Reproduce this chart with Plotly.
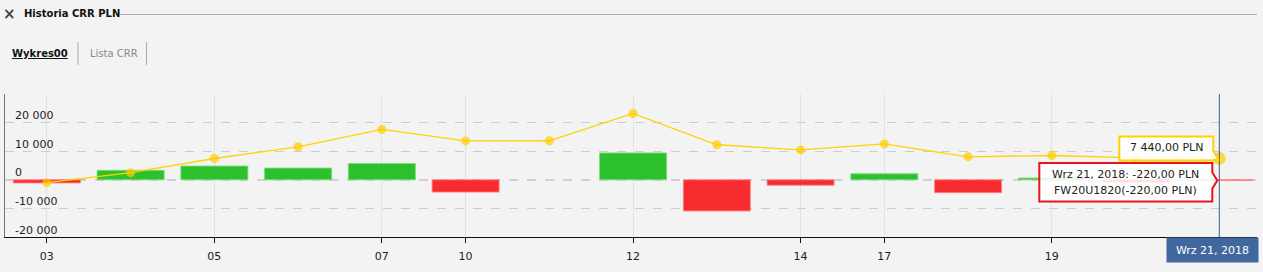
import plotly.graph_objects as go

# ---- data ----
days = ["03", "04", "05", "06", "07", "10", "11", "12", "13", "14", "17", "18", "19", "20", "21"]
daily_pln = [-1100, 3300, 4800, 4100, 5700, -4300, 0, 9400, -10900, -1900, 2100, -4500, 600, -870, -220]
cumulative_pln = [-1000, 2500, 7450, 11550, 17600, 13600, 13650, 23200, 12250, 10450, 12550, 8050, 8500, 7660, 7440]
tick_days = ["03", "05", "07", "10", "12", "14", "17", "19"]
y_grid = [-20000, -10000, 0, 10000, 20000, 30000]
y_labels = ["-20 000", "-10 000", "0", "10 000", "20 000"]
y_label_vals = [-20000, -10000, 0, 10000, 20000]
cursor_day = "21"
cursor_label = "Wrz 21, 2018"
tip_total = "7 440,00 PLN"
tip_line1 = "Wrz 21, 2018: -220,00 PLN"
tip_line2 = "FW20U1820(-220,00 PLN)"

FONT = "DejaVu Sans"
GREEN = "#2dc22d"
RED = "#f82c2e"
YELLOW = "#ffd200"

W, H = 1263, 272
ML, MR, MT, MB = 5, 6, 94, 35
PW, PH = W - ML - MR, H - MT - MB


def xp(px):
    return (px - ML) / PW


def yp(py):
    return (H - MB - py) / PH


bar_colors = [GREEN if v >= 0 else RED for v in daily_pln]
bar_lines = [("rgba(120,220,120,0.9)" if v > 0 else "rgba(255,130,130,0.9)") if v != 0
             else "rgba(0,0,0,0)" for v in daily_pln]

fig = go.Figure()
fig.add_trace(go.Bar(
    x=days, y=daily_pln, width=0.8,
    marker=dict(color=bar_colors, line=dict(color=bar_lines, width=1)),
    hoverinfo="skip",
))
ci = days.index(cursor_day)
sizes = [9] * len(days)
sizes[ci] = 13
fig.add_trace(go.Scatter(
    x=days, y=cumulative_pln, mode="lines+markers",
    line=dict(color=YELLOW, width=1.3),
    marker=dict(color="#ffcc00", size=sizes, line=dict(width=0)),
    hoverinfo="skip",
))

shapes = []
# zero line
shapes.append(dict(type="line", xref="paper", yref="y", x0=0, x1=1, y0=0, y1=0,
                   line=dict(color="#8a8a8a", width=1, dash="dash"), layer="below"))
# cursor line
shapes.append(dict(type="line", xref="x", yref="paper", x0=ci, x1=ci, y0=0, y1=1,
                   line=dict(color="#3b5b8e", width=1)))
# yellow callout
shapes.append(dict(type="path", xref="x", yref="y", xsizemode="pixel", ysizemode="pixel",
                   xanchor=ci, yanchor=cumulative_pln[ci],
                   path="M -100,22 L -6,22 L -6,8 L -1,-1 L -8,-2 L -100,-2 Z",
                   fillcolor="rgba(255,255,255,0.88)", line=dict(color=YELLOW, width=2)))
# red callout
shapes.append(dict(type="path", xref="x", yref="y", xsizemode="pixel", ysizemode="pixel",
                   xanchor=ci, yanchor=daily_pln[ci],
                   path="M -180,17.5 L -7,17.5 L -7,8 L -2,0 L -7,-8 L -7,-21 L -180,-21 Z",
                   fillcolor="rgba(255,255,255,0.85)", line=dict(color="#e8141c", width=2)))
# header line
shapes.append(dict(type="line", xref="paper", yref="paper", x0=xp(120), x1=xp(1257),
                   y0=yp(14.5), y1=yp(14.5), line=dict(color="#a9adc4", width=1)))
# tab separators
for sx in (78, 146.5):
    shapes.append(dict(type="line", xref="paper", yref="paper", x0=xp(sx), x1=xp(sx),
                       y0=yp(42), y1=yp(65), line=dict(color="#ababab", width=1)))

ann = []
for v, t in zip(y_label_vals, y_labels):
    ann.append(dict(xref="paper", yref="y", x=xp(13), y=v, text=t, showarrow=False,
                    xanchor="left", yanchor="bottom", yshift=-1.5,
                    font=dict(family=FONT, size=11, color="#222")))
ann.append(dict(xref="x", yref="y", x=ci, y=cumulative_pln[ci], text=tip_total, showarrow=False,
                xshift=-53, yshift=11, font=dict(family=FONT, size=11, color="#222")))
ann.append(dict(xref="x", yref="y", x=ci, y=daily_pln[ci], text=tip_line1, showarrow=False,
                xshift=-94, yshift=5.5, font=dict(family=FONT, size=11, color="#222")))
ann.append(dict(xref="x", yref="y", x=ci, y=daily_pln[ci], text=tip_line2, showarrow=False,
                xshift=-94, yshift=-10.5, font=dict(family=FONT, size=11, color="#222")))
ann.append(dict(xref="x", yref="paper", x=ci, y=0, text=cursor_label, showarrow=False,
                xanchor="center", yanchor="top", xshift=-7, yshift=0, width=91, height=24,
                bgcolor="#41679f", borderpad=0, font=dict(family=FONT, size=11, color="white")))
# header texts
ann.append(dict(xref="paper", yref="paper", x=xp(9), y=yp(14.5), text="<b>×</b>", showarrow=False,
                xanchor="center", yanchor="middle", font=dict(family=FONT, size=15, color="#444")))
ann.append(dict(xref="paper", yref="paper", x=xp(22), y=yp(13), text="<b>Historia CRR PLN</b>",
                showarrow=False, xanchor="left", yanchor="middle",
                font=dict(family=FONT, size=10, color="#111")))
ann.append(dict(xref="paper", yref="paper", x=xp(9.5), y=yp(54), text="<b><u>Wykres00</u></b>",
                showarrow=False, xanchor="left", yanchor="middle",
                font=dict(family=FONT, size=10, color="#111")))
ann.append(dict(xref="paper", yref="paper", x=xp(88), y=yp(54), text="Lista CRR",
                showarrow=False, xanchor="left", yanchor="middle",
                font=dict(family=FONT, size=10, color="#8a8a8a")))

fig.update_layout(
    width=W, height=H, margin=dict(l=ML, r=MR, t=MT, b=MB, pad=0),
    paper_bgcolor="#f3f3f3", plot_bgcolor="#f3f3f3",
    showlegend=False, bargap=0.2,
    font=dict(family=FONT, size=11, color="#222"),
    shapes=shapes, annotations=ann,
    xaxis=dict(type="category", categoryorder="array", categoryarray=days,
               range=[-0.5, 14.45], tickmode="array", tickvals=tick_days, ticktext=tick_days,
               showgrid=True, gridcolor="#e2e2e2", gridwidth=1,
               showline=True, linecolor="#111", linewidth=1,
               ticks="outside", ticklen=5, tickcolor="#111", ticklabelstandoff=4,
               tickfont=dict(family=FONT, size=11, color="#222"), fixedrange=True),
    yaxis=dict(range=[-20000, 30000], tickmode="array", tickvals=y_grid,
               showticklabels=False, showgrid=True, gridcolor="#cdcdcd", griddash="dash",
               zeroline=False, showline=True, linecolor="#777", linewidth=1, fixedrange=True),
)

fig.write_html("out.html", config={"displayModeBar": False})
